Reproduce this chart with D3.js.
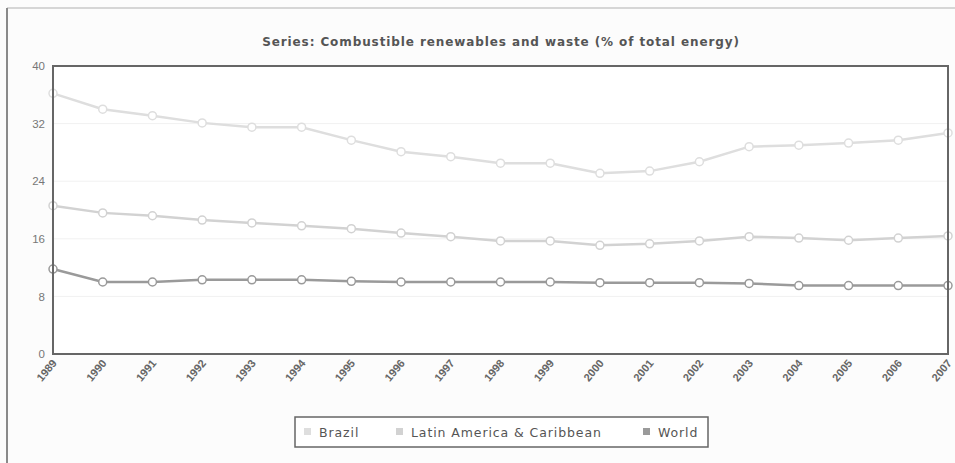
<!DOCTYPE html>
<html>
<head>
<meta charset="utf-8">
<script src="https://cdn.jsdelivr.net/npm/d3@7"></script>
<style>
  html, body { margin: 0; padding: 0; background: #fcfcfc; }
  svg { display: block; font-family: "DejaVu Sans", "Liberation Sans", sans-serif; }
</style>
</head>
<body>
<svg id="chart" width="955" height="463"></svg>
<script>
// Combustible renewables and waste, % of total energy, 1989–2007
const years = ["1989","1990","1991","1992","1993","1994","1995","1996","1997","1998",
               "1999","2000","2001","2002","2003","2004","2005","2006","2007"];
const brazil = [36.2, 34.0, 33.1, 32.1, 31.5, 31.5, 29.7, 28.1, 27.4, 26.5,
                26.5, 25.1, 25.4, 26.7, 28.8, 29.0, 29.3, 29.7, 30.7];
const latinAmerica = [20.6, 19.6, 19.2, 18.6, 18.2, 17.8, 17.4, 16.8, 16.3, 15.7,
                      15.7, 15.1, 15.3, 15.7, 16.3, 16.1, 15.8, 16.1, 16.4];
const world = [11.8, 10.0, 10.0, 10.3, 10.3, 10.3, 10.1, 10.0, 10.0, 10.0,
               10.0, 9.9, 9.9, 9.9, 9.8, 9.5, 9.5, 9.5, 9.5];
const yTicks = [0, 8, 16, 24, 32, 40];
const seriesNames = ["Brazil", "Latin America & Caribbean", "World"];
const seriesColors = ["#dedede", "#d2d2d2", "#9a9a9a"];
const titleText = "Series: Combustible renewables and waste (% of total energy)";

const svg = d3.select("#chart");
const margin = { left: 53, right: 955 - 948, top: 66, bottom: 463 - 354 };
const W = 955, H = 463;

// Outer frame lines
svg.append("line").attr("x1", 7).attr("x2", 955).attr("y1", 8).attr("y2", 8)
  .attr("stroke", "#d6d6d6").attr("stroke-width", 2);
svg.append("line").attr("x1", 7).attr("x2", 7).attr("y1", 8).attr("y2", 463)
  .attr("stroke", "#8a8a8a").attr("stroke-width", 2);

const x = d3.scalePoint().domain(years).range([margin.left, W - margin.right]);
const y = d3.scaleLinear().domain([0, 40]).range([H - margin.bottom, margin.top]);

// plot background
svg.append("rect")
  .attr("x", margin.left).attr("y", margin.top)
  .attr("width", W - margin.right - margin.left)
  .attr("height", H - margin.bottom - margin.top)
  .attr("fill", "#ffffff");

// horizontal gridlines
svg.append("g").selectAll("line").data(yTicks.slice(1, -1)).join("line")
  .attr("x1", margin.left).attr("x2", W - margin.right)
  .attr("y1", d => y(d)).attr("y2", d => y(d))
  .attr("stroke", "#f1f1f1").attr("stroke-width", 1);

// title
svg.append("text")
  .attr("x", 501).attr("y", 46)
  .attr("text-anchor", "middle")
  .attr("font-size", 12).attr("font-weight", "bold")
  .attr("letter-spacing", 0.9)
  .attr("fill", "#555")
  .text(titleText);

// y axis
const yAxis = d3.axisLeft(y).tickValues(yTicks).tickSize(0).tickPadding(8);
const gy = svg.append("g").attr("transform", `translate(${margin.left},0)`).call(yAxis);
gy.select(".domain").remove();
gy.selectAll("text").attr("font-size", 11.5).attr("fill", "#777");

// x axis
const xAxis = d3.axisBottom(x).tickSize(0).tickPadding(0);
const gx = svg.append("g").attr("transform", `translate(0,${H - margin.bottom})`).call(xAxis);
gx.select(".domain").remove();
gx.selectAll("text")
  .attr("font-size", 11).attr("font-weight", "bold").attr("fill", "#666")
  .attr("text-anchor", "end")
  .attr("dy", "0.35em")
  .attr("transform", "translate(1,7) rotate(-50)");

// series
const series = [brazil, latinAmerica, world];
const line = d3.line().x((d, i) => x(years[i])).y(d => y(d));

series.forEach((vals, si) => {
  svg.append("path")
    .datum(vals)
    .attr("d", line)
    .attr("fill", "none")
    .attr("stroke", seriesColors[si])
    .attr("stroke-width", 2.5);
});
series.forEach((vals, si) => {
  svg.append("g").selectAll("circle").data(vals).join("circle")
    .attr("cx", (d, i) => x(years[i]))
    .attr("cy", d => y(d))
    .attr("r", 4)
    .attr("fill", "#fff")
    .attr("stroke", seriesColors[si])
    .attr("stroke-width", 1.5);
});

// plot border
svg.append("rect")
  .attr("x", margin.left).attr("y", margin.top)
  .attr("width", W - margin.right - margin.left)
  .attr("height", H - margin.bottom - margin.top)
  .attr("fill", "none").attr("stroke", "#666").attr("stroke-width", 2);

// legend
const legend = svg.append("g");
legend.append("rect")
  .attr("x", 295).attr("y", 417).attr("width", 413).attr("height", 30)
  .attr("fill", "#fff").attr("stroke", "#666").attr("stroke-width", 1.5);
const legendX = [304, 396, 643];
seriesNames.forEach((name, i) => {
  legend.append("rect")
    .attr("x", legendX[i]).attr("y", 428).attr("width", 7).attr("height", 7)
    .attr("fill", seriesColors[i]);
  legend.append("text")
    .attr("x", legendX[i] + 15).attr("y", 437)
    .attr("font-size", 12.5).attr("fill", "#555")
    .attr("letter-spacing", 0.9)
    .text(name);
});
</script>
</body>
</html>
